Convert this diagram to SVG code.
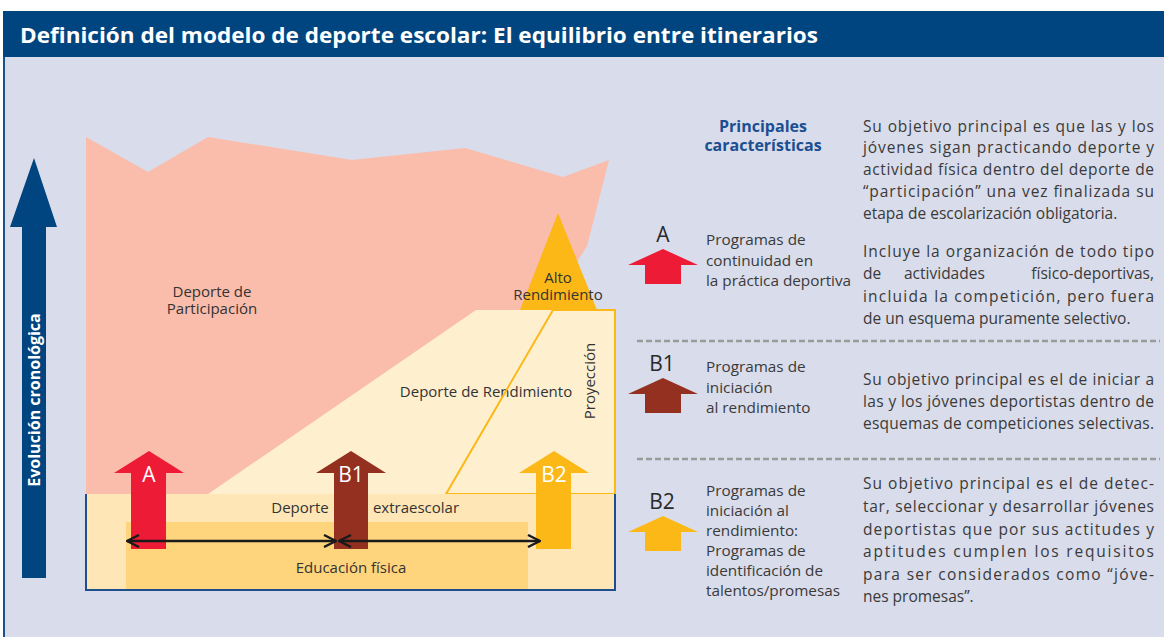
<svg xmlns="http://www.w3.org/2000/svg" width="1164" height="637" viewBox="0 0 1164 637">
<defs>
<style>
text{font-family:"Open Sans","Noto Sans","Liberation Sans",sans-serif;}
.t{fill:#3a3a3a;font-size:15.5px;}
.lab{fill:#3a3a3a;font-size:15.3px;}
.dg{fill:#333333;font-size:15px;}
.w{fill:#ffffff;font-size:21px;}
.big{fill:#2a2a2a;font-size:21px;}
.dash{stroke:#9a9a9a;stroke-width:2.5;stroke-dasharray:6 3;}
</style>
<marker id="chev" viewBox="0 0 14 14" refX="13" refY="7" markerWidth="14" markerHeight="14" markerUnits="userSpaceOnUse" orient="auto-start-reverse">
<path d="M1,1 L13,7 L1,13" fill="none" stroke="#1a1a1a" stroke-width="2.4"/>
</marker>
</defs>
<rect x="0" y="0" width="1164" height="637" fill="#ffffff"/>
<rect x="3" y="57" width="1161" height="580" fill="#d9dcea"/>
<line x1="4" y1="57" x2="4" y2="637" stroke="#1f4e8c" stroke-width="2"/>
<g id="header">
<rect x="3" y="11" width="1161" height="46" fill="#00457f"/>
<text x="20" y="43" font-size="21" font-weight="bold" fill="#ffffff" textLength="798" lengthAdjust="spacingAndGlyphs">Definición del modelo de deporte escolar: El equilibrio entre itinerarios</text>
</g>
<g id="evolucion">
<polygon points="34,158 57,227 46,227 46,578 22,578 22,227 10,227" fill="#00457f"/>
<text transform="translate(40,400) rotate(-90)" text-anchor="middle" font-size="16" font-weight="bold" fill="#ffffff">Evolución cronológica</text>
</g>
<g id="participacion">
<polygon points="86,137 148,172 208,137 352,160 465,148 563,177 609,160 587,246 540,320 400,494 86,494" fill="#fabcab"/>
<text class="dg" x="212" y="297" text-anchor="middle">Deporte de</text>
<text class="dg" x="212" y="314" text-anchor="middle">Participación</text>
</g>
<g id="rendimiento">
<polygon points="476,310 615,310 615,494 208,494" fill="#feefcf"/>
<text class="dg" x="486" y="397" text-anchor="middle" font-size="15.8">Deporte de Rendimiento</text>
</g>
<g id="proyeccion">
<polygon points="553,310 615,310 615,494 446,494" fill="none" stroke="#fbb817" stroke-width="2"/>
<text class="dg" transform="translate(595,381) rotate(-90)" text-anchor="middle">Proyección</text>
</g>
<g id="alto">
<polygon points="558,213 597,310 520,310" fill="#fbb817"/>
<text class="dg" x="558" y="283" text-anchor="middle">Alto</text>
<text class="dg" x="558" y="300" text-anchor="middle">Rendimiento</text>
</g>
<g id="extraescolar">
<rect x="86" y="494" width="529" height="96" fill="#fee6b6"/>
<path d="M86,494 V590 H615 V494" fill="none" stroke="#1f4e8c" stroke-width="2"/>
<text class="dg" x="300" y="513" text-anchor="middle">Deporte</text>
<text class="dg" x="416" y="513" text-anchor="middle">extraescolar</text>
</g>
<g id="educacion">
<rect x="126" y="522" width="402" height="67" fill="#fed57d"/>
<text class="dg" x="351" y="573" text-anchor="middle">Educación física</text>
</g>
<g id="arrowA">
<polygon points="149,451 184,473 166,473 166,549 131,549 131,473 114,473" fill="#ee1b36"/>
<text class="w" x="149" y="482" text-anchor="middle">A</text>
</g>
<g id="arrowB1">
<polygon points="351,451 386,473 368,473 368,549 334,549 334,473 316,473" fill="#93301f"/>
<text class="w" x="351" y="482" text-anchor="middle">B1</text>
</g>
<g id="arrowB2">
<polygon points="554,451 589,473 571,473 571,549 536,549 536,473 519,473" fill="#fbb817"/>
<text class="w" x="554" y="482" text-anchor="middle">B2</text>
</g>
<g id="connectors">
<line x1="127" y1="541" x2="336" y2="541" stroke="#1a1a1a" stroke-width="2.5" marker-start="url(#chev)" marker-end="url(#chev)"/>
<line x1="339" y1="541" x2="540" y2="541" stroke="#1a1a1a" stroke-width="2.5" marker-start="url(#chev)" marker-end="url(#chev)"/>
</g>
<g id="principales">
<text x="763" y="132" text-anchor="middle" font-size="16" font-weight="bold" fill="#1b4f91">Principales</text>
<text x="763" y="151" text-anchor="middle" font-size="16" font-weight="bold" fill="#1b4f91">características</text>
</g>
<g id="itemA">
<text class="big" x="663" y="242" text-anchor="middle">A</text>
<polygon points="663,249 698,265 681,265 681,284 645,284 645,265 628,265" fill="#ee1b36"/>
<text class="lab" x="706" y="245">Programas de</text>
<text class="lab" x="706" y="266">continuidad en</text>
<text class="lab" x="706" y="286">la práctica deportiva</text>
<text class="t" x="863" y="132" textLength="291" lengthAdjust="spacing">Su objetivo principal es que las y los</text>
<text class="t" x="863" y="153" textLength="291" lengthAdjust="spacing">jóvenes sigan practicando deporte y</text>
<text class="t" x="863" y="175" textLength="291" lengthAdjust="spacing">actividad física dentro del deporte de</text>
<text class="t" x="863" y="197" textLength="291" lengthAdjust="spacing">“participación” una vez finalizada su</text>
<text class="t" x="863" y="219">etapa de escolarización obligatoria.</text>
<text class="t" x="863" y="257" textLength="291" lengthAdjust="spacing">Incluye la organización de todo tipo</text>
<text class="t" y="279"><tspan x="863">de</tspan><tspan x="904">actividades</tspan></text>
<text class="t" x="1154" y="279" text-anchor="end">físico-deportivas,</text>
<text class="t" x="863" y="302" textLength="291" lengthAdjust="spacing">incluida la competición, pero fuera</text>
<text class="t" x="863" y="324">de un esquema puramente selectivo.</text>
</g>
<line class="dash" x1="637" y1="341" x2="1160" y2="341"/>
<g id="itemB1">
<text class="big" x="662" y="371" text-anchor="middle">B1</text>
<polygon points="663,378 698,394 681,394 681,413 645,413 645,394 628,394" fill="#93301f"/>
<text class="lab" x="706" y="372">Programas de</text>
<text class="lab" x="706" y="393">iniciación</text>
<text class="lab" x="706" y="413">al rendimiento</text>
<text class="t" x="863" y="385" textLength="291" lengthAdjust="spacing">Su objetivo principal es el de iniciar a</text>
<text class="t" x="863" y="407" textLength="291" lengthAdjust="spacing">las y los jóvenes deportistas dentro de</text>
<text class="t" x="863" y="429" textLength="291" lengthAdjust="spacing">esquemas de competiciones selectivas.</text>
</g>
<line class="dash" x1="637" y1="459" x2="1160" y2="459"/>
<g id="itemB2">
<text class="big" x="662" y="509" text-anchor="middle">B2</text>
<polygon points="663,516 698,532 681,532 681,551 645,551 645,532 628,532" fill="#fbb817"/>
<text class="lab" x="706" y="496">Programas de</text>
<text class="lab" x="706" y="516">iniciación al</text>
<text class="lab" x="706" y="536">rendimiento:</text>
<text class="lab" x="706" y="556">Programas de</text>
<text class="lab" x="706" y="576">identificación de</text>
<text class="lab" x="706" y="596">talentos/promesas</text>
<text class="t" x="863" y="489" textLength="291" lengthAdjust="spacing">Su objetivo principal es el de detec-</text>
<text class="t" x="863" y="512" textLength="291" lengthAdjust="spacing">tar, seleccionar y desarrollar jóvenes</text>
<text class="t" x="863" y="535" textLength="291" lengthAdjust="spacing">deportistas que por sus actitudes y</text>
<text class="t" x="863" y="557" textLength="291" lengthAdjust="spacing">aptitudes cumplen los requisitos</text>
<text class="t" x="863" y="580" textLength="291" lengthAdjust="spacing">para ser considerados como “jóve-</text>
<text class="t" x="863" y="602">nes promesas”.</text>
</g>
</svg>
